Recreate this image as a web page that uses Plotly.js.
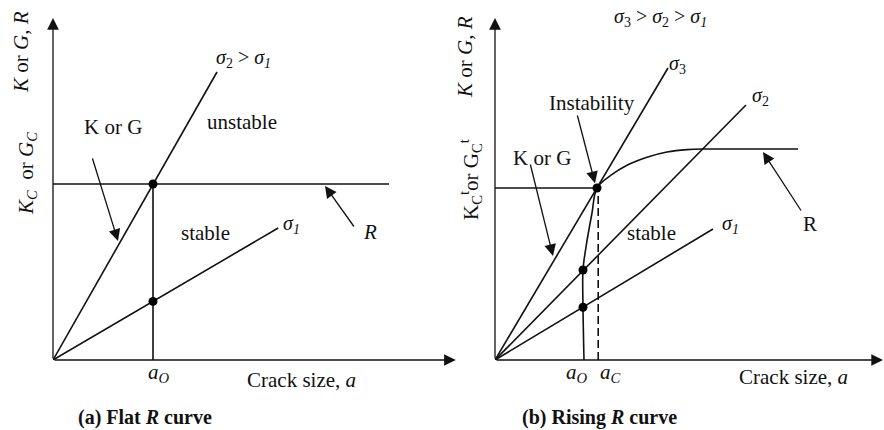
<!DOCTYPE html>
<html>
<head>
<meta charset="utf-8">
<script src="https://cdn.plot.ly/plotly-3.0.1.min.js"></script>
<style>html,body{margin:0;padding:0;background:#fff;}#chart{width:884px;height:430px;}</style>
</head>
<body>
<div id="chart"></div>
<script>
// ---------- Panel (a): flat R curve ----------
const aFlatRX = [0, 8.4];
const aFlatRY = [4.4, 4.4];
const aSigma2X = [0, 4.1];
const aSigma2Y = [0, 7.2];
const aSigma1X = [0, 5.63];
const aSigma1Y = [0, 3.3];
const aCrackX = [2.5, 2.5];          // a_o
const aCrackY = [0, 4.4];
const aDotsX = [2.5, 2.5];
const aDotsY = [4.4, 1.465];

// ---------- Panel (b): rising R curve ----------
const bRX = [2.225, 2.2, 2.2, 2.275, 2.425, 2.55, 2.9, 3.3, 3.8, 4.3, 4.8, 5.3, 6.4, 7.575];
const bRY = [0, 1.325, 2.25, 2.825, 3.675, 4.3, 4.62, 4.87, 5.07, 5.2, 5.26, 5.275, 5.275, 5.275];
const bSigma3X = [0, 4.325];
const bSigma3Y = [0, 7.3];
const bSigma2X = [0, 6.275];
const bSigma2Y = [0, 6.375];
const bSigma1X = [0, 5.45];
const bSigma1Y = [0, 3.275];
const bKctX = [0, 2.55];
const bKctY = [4.3, 4.3];
const bAcX = [2.58, 2.58];           // a_c
const bAcY = [0, 4.3];
const bDotsX = [2.55, 2.2, 2.2];
const bDotsY = [4.3, 2.25, 1.32];

const FONT = 'Liberation Serif, Times New Roman, serif';
const lineStyle = {color: '#111', width: 1.6};

function ln(x, y, ax, extra) {
  const t = {x: x, y: y, mode: 'lines', type: 'scatter', line: Object.assign({}, lineStyle),
    xaxis: ax === 2 ? 'x2' : 'x', yaxis: ax === 2 ? 'y2' : 'y', hoverinfo: 'skip', cliponaxis: false};
  if (extra) Object.assign(t.line, extra);
  return t;
}
function dots(x, y, ax) {
  return {x: x, y: y, mode: 'markers', type: 'scatter', marker: {color: '#000', size: 9},
    xaxis: ax === 2 ? 'x2' : 'x', yaxis: ax === 2 ? 'y2' : 'y', hoverinfo: 'skip', cliponaxis: false};
}

const traces = [
  ln(aFlatRX, aFlatRY, 1), ln(aSigma2X, aSigma2Y, 1), ln(aSigma1X, aSigma1Y, 1), ln(aCrackX, aCrackY, 1),
  dots(aDotsX, aDotsY, 1),
  ln(bRX, bRY, 2, {shape: 'spline', smoothing: 1}),
  ln(bSigma3X, bSigma3Y, 2), ln(bSigma2X, bSigma2Y, 2), ln(bSigma1X, bSigma1Y, 2),
  ln(bKctX, bKctY, 2), ln(bAcX, bAcY, 2, {dash: '8px,4px'}),
  dots(bDotsX, bDotsY, 2)
];

function arrow(ax, x, y, tx, ty) {
  const xr = ax === 2 ? 'x2' : 'x', yr = ax === 2 ? 'y2' : 'y';
  return {xref: xr, yref: yr, axref: xr, ayref: yr, x: x, y: y, ax: tx, ay: ty, text: '',
    showarrow: true, arrowhead: 2, arrowsize: 1.8, arrowwidth: 1.3, arrowcolor: '#111'};
}
function label(ax, x, y, text, opts) {
  const xr = ax === 2 ? 'x2' : 'x', yr = ax === 2 ? 'y2' : 'y';
  return Object.assign({xref: xr, yref: yr, x: x, y: y, text: text, showarrow: false,
    font: {family: FONT, size: 21, color: '#111'}}, opts || {});
}
// labels outside the plotting areas, placed on the page (paper) by pixel position
function plabel(px, py, text, opts) {
  return Object.assign({xref: 'paper', yref: 'paper', x: px / 884, y: (430 - py) / 430,
    xanchor: 'center', yanchor: 'middle', text: text, showarrow: false,
    font: {family: FONT, size: 21, color: '#111'}}, opts || {});
}
const sig = {font: {family: FONT, size: 20, color: '#111'}};
const cap = {font: {family: FONT, size: 20, color: '#111'}};

const annotations = [
  // axes with arrows
  arrow(1, 0, 8.55, 0, 0), arrow(1, 10.07, 0, 0, 0),
  arrow(2, 0, 8.55, 0, 0), arrow(2, 9.7, 0, 0, 0),
  // pointer arrows panel a
  arrow(1, 1.625, 2.975, 0.975, 5.075),
  arrow(1, 6.8, 4.35, 7.55, 3.3),
  // pointer arrows panel b
  arrow(2, 1.45, 2.6, 0.875, 4.925),
  arrow(2, 2.5, 4.42, 2.05, 6.15),
  arrow(2, 6.7, 5.2, 7.675, 3.7),
  // panel a labels
  label(1, 4.75, 7.55, '<i>σ</i><sub>2</sub> > <i>σ</i><sub><i>1</i></sub>', sig),
  label(1, 4.725, 5.95, 'unstable'),
  label(1, 1.5, 5.825, 'K or G'),
  label(1, 3.8, 3.175, 'stable'),
  label(1, 5.95, 3.4, '<i>σ</i><sub><i>1</i></sub>', sig),
  label(1, 7.925, 3.2, '<i>R</i>'),
  plabel(159, 373, '<i>a<sub>O</sub></i>'),
  plabel(301, 380, 'Crack size, <i>a</i>'),
  plabel(145, 417, '<b>(a) Flat <i>R</i> curve</b>', cap),
  plabel(21, 52, '<i>K</i> or <i>G</i>, <i>R</i>', {textangle: -90}),
  plabel(27, 174, '<i>K<sub>C</sub></i>  or <i>G<sub>C</sub></i>', {textangle: -90}),
  // panel b labels
  plabel(660, 17, '<i>σ</i><sub>3</sub> > <i>σ</i><sub>2</sub> > <i>σ</i><sub><i>1</i></sub>', sig),
  label(2, 2.425, 6.425, 'Instability'),
  label(2, 1.175, 5.05, 'K or G'),
  label(2, 4.55, 7.4, '<i>σ</i><sub>3</sub>', sig),
  label(2, 6.625, 6.6, '<i>σ</i><sub>2</sub>', sig),
  label(2, 5.875, 3.4, '<i>σ</i><sub><i>1</i></sub>', sig),
  label(2, 3.9, 3.175, 'stable'),
  label(2, 7.875, 3.4, 'R'),
  plabel(577, 373, '<i>a<sub>O</sub></i>'),
  plabel(610, 373, '<i>a<sub>C</sub></i>'),
  plabel(793, 377, 'Crack size, <i>a</i>'),
  plabel(599, 417, '<b>(b) Rising <i>R</i> curve</b>', cap),
  plabel(465, 57, '<i>K</i> or <i>G</i>, <i>R</i>', {textangle: -90}),
  plabel(471, 180, 'K<sub>C</sub><sup>t</sup>or G<sub>C</sub><sup>t</sup>', {textangle: -90})
];

const hidden = {visible: false, fixedrange: true, zeroline: false, showgrid: false};
const layout = {
  width: 884, height: 430,
  margin: {l: 0, r: 0, t: 0, b: 0},
  paper_bgcolor: '#fff', plot_bgcolor: '#fff',
  showlegend: false,
  xaxis: Object.assign({range: [0, 10.1], domain: [53 / 884, 457 / 884]}, hidden),
  yaxis: Object.assign({range: [0, 8.6], domain: [70 / 430, 414 / 430]}, hidden),
  xaxis2: Object.assign({range: [0, 9.7], domain: [495 / 884, 883 / 884], anchor: 'y2'}, hidden),
  yaxis2: Object.assign({range: [0, 8.6], domain: [70 / 430, 414 / 430], anchor: 'x2'}, hidden),
  annotations: annotations
};
Plotly.newPlot('chart', traces, layout, {displayModeBar: false, staticPlot: true});
</script>
</body>
</html>
